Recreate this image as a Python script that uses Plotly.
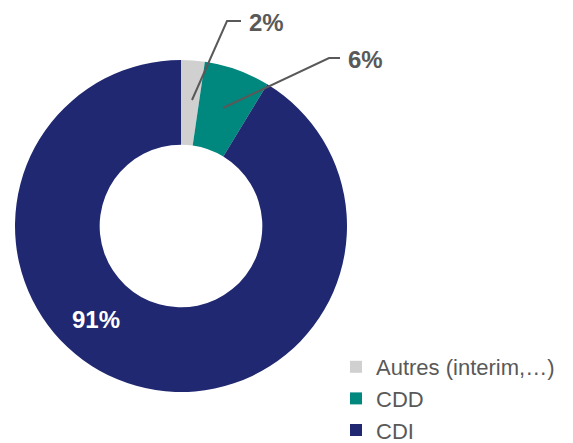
import plotly.graph_objects as go

categories = ["Autres (interim,…)", "CDD", "CDI"]
values = [2.3, 6.4, 91.3]
colors = ["#D0D0D0", "#00877E", "#1F2870"]

W, H = 573, 443

def px(x):
    return x / W

def py(y):
    return 1 - y / H

# donut: centre (181, 226), radius 166 px
cx, cy, r = 181, 226, 166

fig = go.Figure(go.Pie(
    labels=categories,
    values=values,
    hole=0.49,
    sort=False,
    direction="clockwise",
    rotation=0,
    marker=dict(colors=colors, line=dict(width=0)),
    textinfo="none",
    hoverinfo="label+percent",
    domain=dict(x=[px(cx - r), px(cx + r)], y=[py(cy + r), py(cy - r)]),
))

font_family = "Liberation Sans, Arial, sans-serif"
label_font = dict(family=font_family, size=24, color="#595959")

# leader lines
line_style = dict(color="#595959", width=2)
fig.add_shape(type="path", xref="paper", yref="paper",
              path=f"M {px(192)} {py(100)} L {px(227)} {py(21)} L {px(241)} {py(21)}",
              line=line_style)
fig.add_shape(type="path", xref="paper", yref="paper",
              path=f"M {px(223)} {py(108)} L {px(329)} {py(58)} L {px(340)} {py(58)}",
              line=line_style)

fig.add_annotation(x=px(247), y=py(22), xref="paper", yref="paper", xanchor="left", yanchor="middle",
                   text=f"<b>{round(values[0])}%</b>", showarrow=False, font=label_font)
fig.add_annotation(x=px(346), y=py(59), xref="paper", yref="paper", xanchor="left", yanchor="middle",
                   text=f"<b>{round(values[1])}%</b>", showarrow=False, font=label_font)
fig.add_annotation(x=px(96), y=py(319), xref="paper", yref="paper", xanchor="center", yanchor="middle",
                   text=f"<b>{round(values[2])}%</b>", showarrow=False,
                   font=dict(family=font_family, size=24, color="#FFFFFF"))

fig.update_layout(
    width=W, height=H,
    margin=dict(l=0, r=0, t=0, b=0, autoexpand=False),
    paper_bgcolor="white",
    plot_bgcolor="white",
    showlegend=True,
    legend=dict(
        x=px(336), y=py(346), xanchor="left", yanchor="top",
        font=dict(family=font_family, size=22, color="#595959"),
        itemwidth=30,
        tracegroupgap=0,
        bgcolor="rgba(0,0,0,0)",
    ),
)

fig.write_html(
    "out.html",
    config=dict(displayModeBar=False),
    post_script="document.body.style.margin='0';document.body.style.padding='0';document.body.style.overflow='hidden';",
)
